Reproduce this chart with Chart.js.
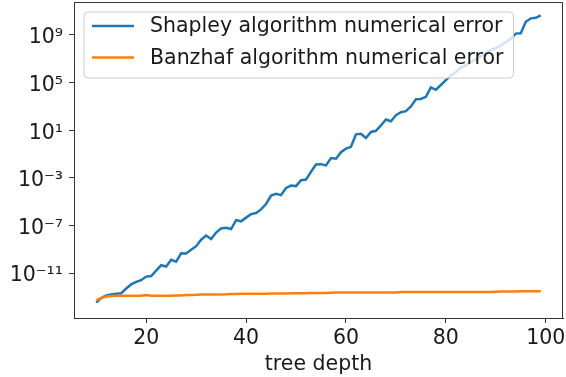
<!DOCTYPE html>
<html>
<head>
<meta charset="utf-8">
<script src="https://cdn.jsdelivr.net/npm/chart.js@4.4.0/dist/chart.umd.min.js"></script>
<style>
  html, body { margin: 0; padding: 0; background: #ffffff; }
  #wrap { width: 566px; height: 377px; position: relative; }
</style>
</head>
<body>
<div id="wrap"><canvas id="c" width="566" height="377"></canvas></div>
<script>
// ---- data ----
const treeDepth = [10,11,12,13,14,15,16,17,18,19,20,21,22,23,24,25,26,27,28,29,30,31,32,33,34,35,36,37,38,39,40,41,42,43,44,45,46,47,48,49,50,51,52,53,54,55,56,57,58,59,60,61,62,63,64,65,66,67,68,69,70,71,72,73,74,75,76,77,78,79,80,81,82,83,84,85,86,87,88,89,90,91,92,93,94,95,96,97,98,99];

const shapleyError = [
  3.2e-14, 7.9e-14, 1.3e-13, 1.6e-13, 1.8e-13, 2.0e-13, 5.0e-13, 1.1e-12, 1.8e-12, 2.5e-12,
  5.0e-12, 5.6e-12, 1.6e-11, 4.5e-11, 3.5e-11, 1.3e-10, 8.9e-11, 4.5e-10, 4.4e-10, 8.9e-10,
  1.8e-9, 6.3e-9, 1.4e-8, 7.1e-9, 2.5e-8, 5.6e-8, 6.3e-8, 5.0e-8, 2.8e-7, 2.2e-7,
  4.5e-7, 8.9e-7, 1.1e-6, 2.2e-6, 6.3e-6, 3.2e-5, 4.5e-5, 3.5e-5, 1.4e-4, 2.2e-4,
  2.0e-4, 6.3e-4, 7.1e-4, 3.2e-3, 1.3e-2, 1.4e-2, 1.1e-2, 4.5e-2, 4.0e-2, 0.14,
  0.28, 0.40, 4.5, 5.0, 2.2, 7.1, 8.9, 25, 79, 56,
  180, 320, 400, 1000, 4000, 4200, 6300, 4.0e4, 2.5e4, 6.3e4,
  1.6e5, 4.0e5, 7.9e5, 1.8e6, 2.8e6, 5.6e6, 8.9e6, 1.6e7, 3.2e7, 5.6e7,
  7.9e7, 1.3e8, 2.5e8, 5.0e8, 1.3e9, 1.4e9, 1.3e10, 2.5e10, 2.8e10, 4.5e10
];

const banzhafError = [
  5.0e-14, 7.9e-14, 1.05e-13, 1.15e-13, 1.2e-13, 1.2e-13, 1.2e-13, 1.25e-13, 1.25e-13, 1.25e-13,
  1.4e-13, 1.25e-13, 1.2e-13, 1.25e-13, 1.25e-13, 1.25e-13, 1.3e-13, 1.3e-13, 1.4e-13, 1.45e-13,
  1.5e-13, 1.6e-13, 1.6e-13, 1.6e-13, 1.6e-13, 1.6e-13, 1.65e-13, 1.75e-13, 1.75e-13, 1.8e-13,
  1.8e-13, 1.85e-13, 1.85e-13, 1.85e-13, 1.85e-13, 1.9e-13, 1.9e-13, 1.9e-13, 1.9e-13, 2.0e-13,
  2.0e-13, 2.0e-13, 2.0e-13, 2.1e-13, 2.1e-13, 2.1e-13, 2.1e-13, 2.2e-13, 2.3e-13, 2.3e-13,
  2.3e-13, 2.3e-13, 2.3e-13, 2.3e-13, 2.3e-13, 2.3e-13, 2.3e-13, 2.3e-13, 2.3e-13, 2.3e-13,
  2.3e-13, 2.5e-13, 2.5e-13, 2.5e-13, 2.5e-13, 2.5e-13, 2.5e-13, 2.5e-13, 2.5e-13, 2.5e-13,
  2.5e-13, 2.6e-13, 2.6e-13, 2.6e-13, 2.6e-13, 2.6e-13, 2.6e-13, 2.6e-13, 2.6e-13, 2.6e-13,
  2.7e-13, 2.8e-13, 2.8e-13, 2.8e-13, 2.8e-13, 2.9e-13, 2.9e-13, 2.9e-13, 3.0e-13, 3.0e-13
];

const seriesLabels = ['Shapley algorithm numerical error', 'Banzhaf algorithm numerical error'];
const xTickValues = [20, 40, 60, 80, 100];
const yTickValues = [1e-11, 1e-7, 1e-3, 1e1, 1e5, 1e9];
const yTickLabels = ['10\u207B\u00B9\u00B9', '10\u207B\u2077', '10\u207B\u00B3', '10\u00B9', '10\u2075', '10\u2079'];
const xAxisTitle = 'tree depth';

// ---- styling ----
const FONT = 'DejaVu Sans';
const FSIZE = 20.5;
const TEXT = '#1a1a1a';
const SPINE = '#333333';
const BLUE = '#1f77b4';
const ORANGE = '#ff7f0e';

const framePlugin = {
  id: 'frame',
  afterDatasetsDraw(chart) {
    const { ctx, chartArea: a } = chart;
    ctx.save();
    ctx.strokeStyle = SPINE;
    ctx.lineWidth = 1;
    ctx.beginPath();
    ctx.moveTo(a.left, a.top + 0.5);
    ctx.lineTo(a.right - 0.5, a.top + 0.5);
    ctx.lineTo(a.right - 0.5, a.bottom);
    ctx.stroke();
    ctx.restore();

    // legend (matplotlib style, drawn inside the axes)
    const ds = chart.data.datasets;
    ctx.save();
    ctx.font = FSIZE + 'px "' + FONT + '"';
    let maxW = 0;
    ds.forEach(d => { maxW = Math.max(maxW, ctx.measureText(d.label).width); });
    const bx = a.left + 10, by = a.top + 10;
    const handleX0 = bx + 8, handleX1 = bx + 50, textX = bx + 66;
    const bw = textX - bx + maxW + 10;
    const bh = 66;
    const r = 4;
    ctx.beginPath();
    ctx.moveTo(bx + r, by);
    ctx.lineTo(bx + bw - r, by);
    ctx.arcTo(bx + bw, by, bx + bw, by + r, r);
    ctx.lineTo(bx + bw, by + bh - r);
    ctx.arcTo(bx + bw, by + bh, bx + bw - r, by + bh, r);
    ctx.lineTo(bx + r, by + bh);
    ctx.arcTo(bx, by + bh, bx, by + bh - r, r);
    ctx.lineTo(bx, by + r);
    ctx.arcTo(bx, by, bx + r, by, r);
    ctx.closePath();
    ctx.fillStyle = 'rgba(255,255,255,0.8)';
    ctx.fill();
    ctx.strokeStyle = '#cccccc';
    ctx.lineWidth = 1;
    ctx.stroke();
    const rows = [by + 14, by + 45.5];
    ds.forEach((d, i) => {
      ctx.strokeStyle = d.borderColor;
      ctx.lineWidth = 2.5;
      ctx.beginPath();
      ctx.moveTo(handleX0, rows[i]);
      ctx.lineTo(handleX1, rows[i]);
      ctx.stroke();
      ctx.fillStyle = TEXT;
      ctx.textBaseline = 'middle';
      ctx.textAlign = 'left';
      ctx.fillText(d.label, textX, rows[i] + 1);
    });
    ctx.restore();
  }
};

new Chart(document.getElementById('c'), {
  type: 'line',
  data: {
    datasets: [
      {
        label: seriesLabels[0],
        data: treeDepth.map((x, i) => ({ x: x, y: shapleyError[i] })),
        borderColor: BLUE,
        backgroundColor: BLUE,
        borderWidth: 2.5,
        pointRadius: 0,
        tension: 0,
        order: 1
      },
      {
        label: seriesLabels[1],
        data: treeDepth.map((x, i) => ({ x: x, y: banzhafError[i] })),
        borderColor: ORANGE,
        backgroundColor: ORANGE,
        borderWidth: 2.5,
        pointRadius: 0,
        tension: 0,
        order: 0
      }
    ]
  },
  options: {
    responsive: false,
    animation: false,
    devicePixelRatio: 1,
    layout: { padding: { left: 0, right: 3, top: 2, bottom: 0 } },
    plugins: { legend: { display: false }, tooltip: { enabled: false } },
    scales: {
      x: {
        type: 'linear',
        min: 5.55,
        max: 103.45,
        afterBuildTicks: s => { s.ticks = xTickValues.map(v => ({ value: v })); },
        afterFit: s => { s.height = 59; s.paddingLeft = 0; s.paddingRight = 0; },
        grid: { drawOnChartArea: false, drawTicks: true, tickLength: 5, color: SPINE, lineWidth: 1 },
        border: { display: true, color: SPINE, width: 1 },
        ticks: { color: TEXT, padding: 3, maxRotation: 0, autoSkip: false, font: { family: FONT, size: FSIZE } },
        title: { display: true, text: xAxisTitle, color: TEXT, font: { family: FONT, size: FSIZE }, padding: { top: 0, bottom: 0 } }
      },
      y: {
        type: 'logarithmic',
        min: 1.66e-15,
        max: 5.9e11,
        afterBuildTicks: s => { s.ticks = yTickValues.map(v => ({ value: v })); },
        afterFit: s => { s.width = 74; s.paddingTop = 0; s.paddingBottom = 0; },
        grid: { drawOnChartArea: false, drawTicks: true, tickLength: 5, color: SPINE, lineWidth: 1 },
        border: { display: true, color: SPINE, width: 1 },
        ticks: {
          color: TEXT, padding: 6, autoSkip: false, labelOffset: 3,
          font: { family: FONT, size: FSIZE },
          callback: (v, i) => yTickLabels[i]
        }
      }
    }
  },
  plugins: [framePlugin]
});
</script>
</body>
</html>
